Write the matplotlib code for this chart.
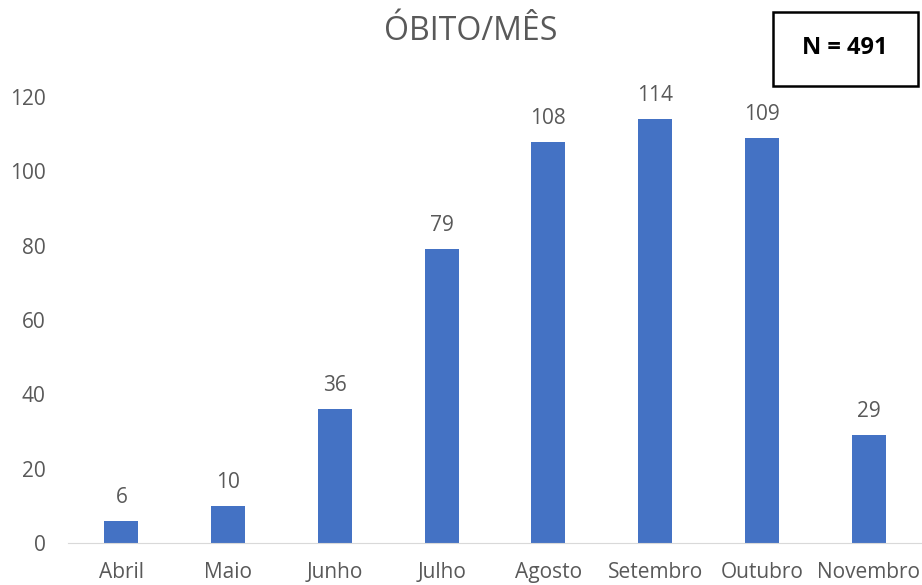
import matplotlib.pyplot as plt
from matplotlib.patches import Rectangle
import numpy as np

months = ["Abril", "Maio", "Junho", "Julho", "Agosto", "Setembro", "Outubro", "Novembro"]
deaths = [6, 10, 36, 79, 108, 114, 109, 29]
total_label = "N = 491"

plt.rcParams['font.family'] = ['Open Sans', 'DejaVu Sans']
grey = '#595959'

fig = plt.figure(figsize=(9.22, 5.85), dpi=100)
ax = fig.add_axes([68/922, 1 - 543/585, (922 - 68)/922, (543 - 97)/585])

x = np.arange(len(months))
bars = ax.bar(x, deaths, width=0.32, color='#4472C4', zorder=2)
for xi, v in zip(x, deaths):
    ax.text(xi, v + 3.5, str(v), ha='center', va='bottom', fontsize=15, color=grey, clip_on=False)

ax.set_xlim(-0.5, len(months) - 0.5)
ax.set_ylim(0, 120)
ax.set_yticks(range(0, 121, 20))
ax.set_xticks(x)
ax.set_xticklabels(months)
ax.tick_params(axis='both', length=0, labelsize=15, labelcolor=grey)
ax.tick_params(axis='x', pad=14)
ax.tick_params(axis='y', pad=16)
for s in ['top', 'right', 'left']:
    ax.spines[s].set_visible(False)
ax.spines['bottom'].set_color('#d9d9d9')

fig.text(471/922, 1 - 32/585, "ÓBITO/MÊS", ha='center', va='center', fontsize=23, color=grey)

# box with total count
fig.patches.append(Rectangle((773/922, 1 - 86/585), 145/922, 74/585, transform=fig.transFigure,
                             facecolor='white', edgecolor='black', linewidth=1.8))
fig.text(845/922, 1 - 48/585, total_label, ha='center', va='center', fontsize=17,
         fontweight='bold', color='black')

fig.savefig('out.png', dpi=100)
